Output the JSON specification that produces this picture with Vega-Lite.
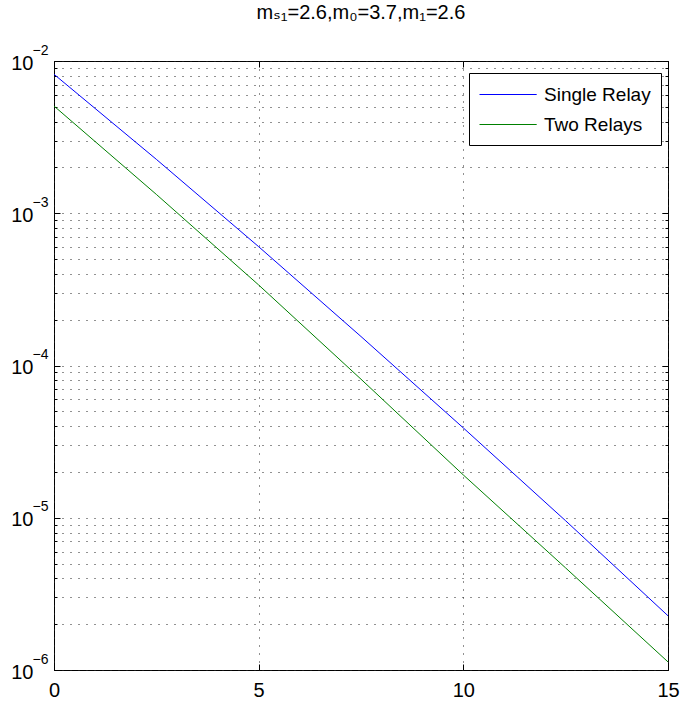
{
  "$schema": "https://vega.github.io/schema/vega-lite/v6.json",
  "width": 614,
  "height": 609,
  "autosize": {"type": "none"},
  "padding": {"left": 54, "top": 61, "right": 13, "bottom": 37},
  "background": "white",
  "title": {
    "text": "mₛ₁=2.6,m₀=3.7,m₁=2.6",
    "font": "Liberation Sans, DejaVu Sans",
    "fontSize": 20,
    "fontWeight": "normal",
    "color": "black",
    "anchor": "middle",
    "offset": 20
  },
  "config": {
    "view": {"stroke": "black", "strokeWidth": 1},
    "axis": {
      "domain": false,
      "labelFont": "Liberation Sans, DejaVu Sans",
      "labelFontSize": 20,
      "labelColor": "black",
      "tickColor": "black",
      "tickWidth": 1,
      "title": null,
      "labelFlush": false,
      "labelOverlap": false
    }
  },
  "data": {
    "values": [
      {"x": 0, "y": 0.00818, "series": "Single Relay"},
      {"x": 2.5, "y": 0.00226, "series": "Single Relay"},
      {"x": 5, "y": 0.000603, "series": "Single Relay"},
      {"x": 7.5, "y": 0.000155, "series": "Single Relay"},
      {"x": 10, "y": 0.0000389, "series": "Single Relay"},
      {"x": 12.5, "y": 0.00000955, "series": "Single Relay"},
      {"x": 15, "y": 0.00000227, "series": "Single Relay"},
      {"x": 0, "y": 0.00506, "series": "Two Relays"},
      {"x": 2.5, "y": 0.00133, "series": "Two Relays"},
      {"x": 5, "y": 0.000338, "series": "Two Relays"},
      {"x": 7.5, "y": 0.0000813, "series": "Two Relays"},
      {"x": 10, "y": 0.0000191, "series": "Two Relays"},
      {"x": 12.5, "y": 0.00000468, "series": "Two Relays"},
      {"x": 15, "y": 0.00000113, "series": "Two Relays"}
    ]
  },
  "layer": [
    {
      "mark": {"type": "point", "opacity": 0},
      "encoding": {
        "x": {"field": "x", "type": "quantitative", "scale": {"domain": [0, 15], "nice": false, "zero": false},
          "axis": {"orient": "top", "values": [0, 5, 10, 15], "labels": false, "tickSize": -6, "grid": false}},
        "y": {"field": "y", "type": "quantitative", "scale": {"type": "log", "domain": [0.000001, 0.01], "nice": false},
          "axis": {"orient": "left", "values": [0.000001,0.000002,0.000003,0.000004,0.000005,0.000006,0.000007,0.000008,0.000009,0.00001,0.00002,0.00003,0.00004,0.00005,0.00006,0.00007,0.00008,0.00009,0.0001,0.0002,0.0003,0.0004,0.0005,0.0006,0.0007,0.0008,0.0009,0.001,0.002,0.003,0.004,0.005,0.006,0.007,0.008,0.009,0.01],
            "labels": false, "tickSize": -3, "grid": true, "gridColor": "#222", "gridDash": [1, 7], "gridWidth": 1}}
      }
    },
    {
      "mark": {"type": "point", "opacity": 0},
      "encoding": {
        "x": {"field": "x", "type": "quantitative", "axis": null},
        "y": {"field": "y", "type": "quantitative",
          "axis": {"orient": "right", "values": [0.000001,0.000002,0.000003,0.000004,0.000005,0.000006,0.000007,0.000008,0.000009,0.00001,0.00002,0.00003,0.00004,0.00005,0.00006,0.00007,0.00008,0.00009,0.0001,0.0002,0.0003,0.0004,0.0005,0.0006,0.0007,0.0008,0.0009,0.001,0.002,0.003,0.004,0.005,0.006,0.007,0.008,0.009,0.01],
            "labels": false, "tickSize": -3, "grid": false}}
      }
    },
    {
      "mark": {"type": "point", "opacity": 0},
      "encoding": {
        "x": {"field": "x", "type": "quantitative", "axis": null},
        "y": {"field": "y", "type": "quantitative",
          "axis": {"orient": "right", "values": [0.000001, 0.00001, 0.0001, 0.001, 0.01], "labels": false, "tickSize": -6, "grid": false}}
      }
    },
    {
      "mark": {"type": "point", "opacity": 0},
      "encoding": {
        "x": {"field": "x", "type": "quantitative", "axis": null},
        "y": {"field": "y", "type": "quantitative",
          "axis": {"orient": "left", "values": [0.000001, 0.00001, 0.0001, 0.001, 0.01], "ticks": false, "tickSize": 0, "grid": false,
            "labelExpr": "'−' + round(-log(datum.value) / LN10)", "labelFontSize": 14, "labelPadding": 6, "labelOffset": -11, "labelBaseline": "middle"}}
      }
    },
    {
      "mark": {"type": "line", "strokeWidth": 1},
      "encoding": {
        "x": {"field": "x", "type": "quantitative",
          "axis": {"orient": "bottom", "values": [0, 5, 10, 15], "tickSize": -6, "labelPadding": 16, "grid": true, "gridColor": "#222", "gridDash": [1, 7], "gridWidth": 1}},
        "y": {"field": "y", "type": "quantitative",
          "axis": {"orient": "left", "values": [0.000001, 0.00001, 0.0001, 0.001, 0.01], "tickSize": -6, "grid": false,
            "labelExpr": "'10'", "labelPadding": 27, "labelBaseline": "middle", "labelOffset": 2}},
        "color": {"field": "series", "type": "nominal",
          "scale": {"domain": ["Single Relay", "Two Relays"], "range": ["#0000ff", "#008000"]},
          "legend": {"title": null, "orient": "none", "legendX": 415, "legendY": 12,
            "symbolType": "M-1,0H4.2", "symbolSize": 484, "symbolStrokeWidth": 1, "symbolFillColor": "transparent",
            "labelOffset": 42,
            "labelFont": "Liberation Sans, DejaVu Sans", "labelFontSize": 19, "labelColor": "black", "labelLimit": 300,
            "fillColor": "white", "strokeColor": "black", "padding": 10, "rowPadding": 8, "cornerRadius": 0}}
      }
    }
  ],
  "resolve": {"axis": {"x": "independent", "y": "independent"}}
}
